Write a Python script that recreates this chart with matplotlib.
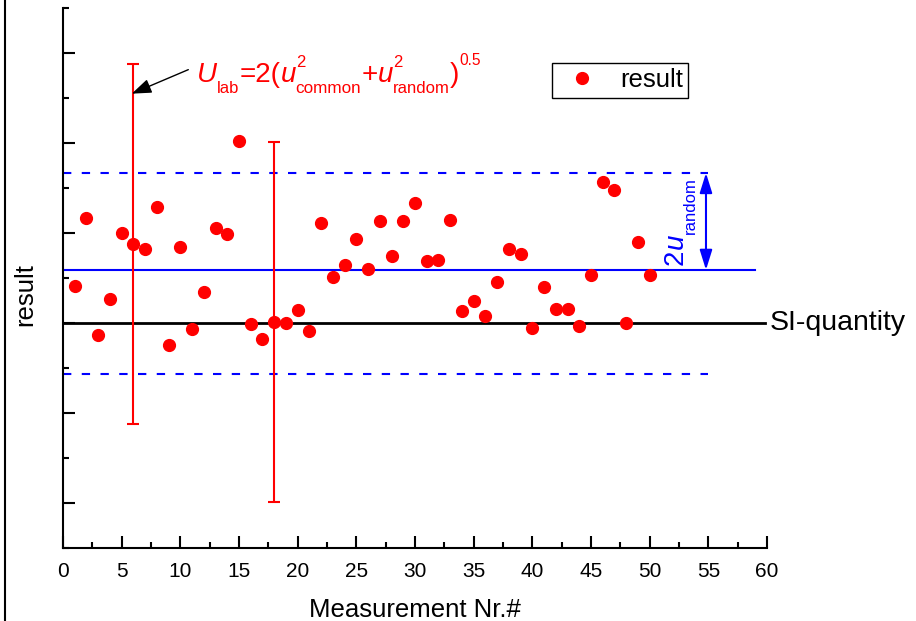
import numpy as np
import matplotlib
matplotlib.use("Agg")
import matplotlib.pyplot as plt
from matplotlib.lines import Line2D
from matplotlib.ticker import MultipleLocator

plt.rcParams['font.family'] = ['Liberation Sans', 'DejaVu Sans']

# data (result relative to the SI-quantity)
measurement = np.arange(1, 51)
result = [0.41, 1.17, -0.13, 0.27, 1.00, 0.88, 0.82, 1.29, -0.24, 0.84,
          -0.07, 0.34, 1.06, 0.99, 2.02, -0.01, -0.18, 0.01, 0.00, 0.14,
          -0.09, 1.11, 0.51, 0.64, 0.93, 0.60, 1.13, 0.75, 1.13, 1.33,
          0.69, 0.70, 1.14, 0.13, 0.25, 0.08, 0.46, 0.82, 0.77, -0.06,
          0.40, 0.16, 0.16, -0.03, 0.53, 1.57, 1.48, 0.00, 0.90, 0.53]
si_quantity = 0.0
mean_result = 0.59
upper_random = 1.667
lower_random = -0.567
err_idx = [6, 18]
u_lab = [2.0, 2.0]
x_ticks = [0, 5, 10, 15, 20, 25, 30, 35, 40, 45, 50, 55, 60]

fig = plt.figure(figsize=(9.16, 6.21), dpi=100)
ax = fig.add_axes([63/916, 1-548/621, 704/916, 540/621])

# reference lines
ax.plot([0, 59.8], [si_quantity, si_quantity], color='black', lw=2)
ax.plot([0, 59], [mean_result, mean_result], color='blue', lw=1.5)
ax.plot([0, 55], [upper_random, upper_random], color='blue', lw=1.5, dashes=(4, 5))
ax.plot([0, 55], [lower_random, lower_random], color='blue', lw=1.5, dashes=(4, 5))

# error bars on two points
err_y = [result[i-1] for i in err_idx]
ax.errorbar(err_idx, err_y, yerr=u_lab, fmt='none', ecolor='red',
            elinewidth=1.5, capsize=4.2, capthick=1.5, zorder=2)

# points
ax.plot(measurement, result, 'o', color='red', ms=8.5, label='result', zorder=3)

ax.text(60.25, si_quantity, 'SI-quantity', fontsize=20.5, va='center', ha='left',
        clip_on=False)


# formula pieces glued one after the other (px offsets -> points)
def piece(prev, s, size, dy=0, italic=False, color='red', y0=0.0):
    return ax.annotate(s, xy=(1, y0), xycoords=(prev, 'data'),
                       xytext=(0, dy*0.72), textcoords='offset points',
                       fontsize=size, color=color, ha='left', va='baseline',
                       fontstyle='italic' if italic else 'normal')


yb = 2.68
t_U = ax.text(11.42, yb, 'U', fontsize=20, color='red', fontstyle='italic',
              ha='left', va='baseline')
t = piece(t_U, 'lab', 12, dy=-11.6, y0=yb)
t = piece(t, '=2(', 20, y0=yb)
t_u1 = piece(t, 'u', 20, italic=True, y0=yb)
piece(t_u1, '2', 12, dy=15, y0=yb)
t = piece(t_u1, 'common', 12.3, dy=-11.6, y0=yb)
t = piece(t, '+', 20, y0=yb)
t_u2 = piece(t, 'u', 20, italic=True, y0=yb)
piece(t_u2, '2', 12, dy=15, y0=yb)
t = piece(t_u2, 'random', 12, dy=-11.6, y0=yb)
t = piece(t, ')', 20, y0=yb)
piece(t, '0.5', 11.2, dy=16.7, y0=yb)

ax.annotate('', xy=(5.86, 2.548), xytext=(10.68, 2.815),
            arrowprops=dict(arrowstyle='-|>,head_length=0.6,head_width=0.22',
                            color='black', lw=1, mutation_scale=20,
                            shrinkA=0, shrinkB=0))

# 2u_random, rotated, also built from pieces
xb = 52.84
t2 = ax.text(xb, 0.648, '2', fontsize=20, color='blue', rotation=90,
             rotation_mode='anchor', ha='left', va='baseline')
t2u = ax.annotate('u', xy=(xb, 1), xycoords=('data', t2), fontsize=20,
                  color='blue', fontstyle='italic', rotation=90,
                  rotation_mode='anchor', ha='left', va='baseline')
ax.annotate('random', xy=(xb, 1), xycoords=('data', t2u), xytext=(12*0.72, 0),
            textcoords='offset points', fontsize=12, color='blue', rotation=90,
            rotation_mode='anchor', ha='left', va='baseline')
ax.annotate('', xy=(54.8, upper_random), xytext=(54.8, mean_result),
            arrowprops=dict(arrowstyle='<|-|>,head_length=0.8,head_width=0.25',
                            color='blue', lw=1.5, mutation_scale=15,
                            shrinkA=0, shrinkB=0))

# axes
ax.set_xlim(0, 60)
ax.set_ylim(-2.5, 3.5)
ax.set_xticks(x_ticks)
ax.xaxis.set_minor_locator(MultipleLocator(2.5))
ax.yaxis.set_major_locator(MultipleLocator(1))
ax.yaxis.set_minor_locator(MultipleLocator(0.5))
ax.tick_params(which='both', direction='in', width=1.5, labelsize=15)
ax.tick_params(which='major', length=8.5, pad=10)
ax.tick_params(which='minor', length=4.5)
ax.tick_params(axis='y', labelleft=False)
ax.spines['top'].set_visible(False)
ax.spines['right'].set_visible(False)
ax.spines['left'].set_linewidth(1.5)
ax.spines['bottom'].set_linewidth(1.5)
ax.set_xlabel('Measurement Nr.#', fontsize=18.5, labelpad=12)
ax.set_ylabel('result', fontsize=18.5)
ax.yaxis.set_label_coords(-0.036, 0.47)

leg = ax.legend(loc='upper left', bbox_to_anchor=(551.7/916, 1-63.3/621),
                bbox_transform=fig.transFigure, fontsize=18.5, frameon=True,
                fancybox=False, framealpha=1, edgecolor='black', borderpad=0.2,
                handlelength=1.95, handletextpad=0.5, borderaxespad=0)
leg.get_frame().set_linewidth(1)

# frame line at the left edge
fig.add_artist(Line2D([4.5/916, 4.5/916], [0, 1], color='black', lw=1.5,
                      transform=fig.transFigure))

fig.savefig('out.png', dpi=100)
